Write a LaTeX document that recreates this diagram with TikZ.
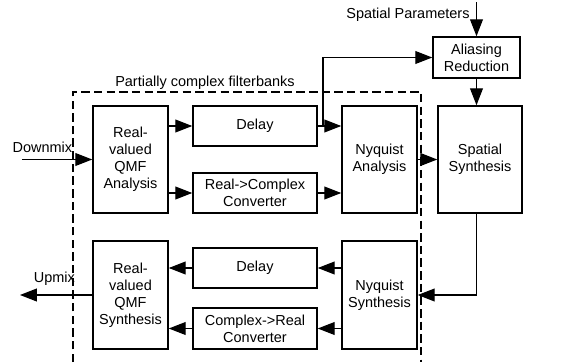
\documentclass[tikz,border=0pt]{standalone}
\usepackage{fontspec}
\setmainfont{Liberation Sans}
\usetikzlibrary{calc, arrows.meta}

\begin{document}
\begin{tikzpicture}[
    block/.style = {draw, line width=1.1pt, align=center, inner sep=0pt, font=\fontsize{10.3}{12}\selectfont},
    tallblock/.style = {block, minimum width=1.875cm, minimum height=2.675cm},
    flatblock/.style = {block, minimum width=3.1cm, minimum height=1cm},
    sig/.style = {line width=0.8pt, -{Triangle[length=4.2mm,width=3.2mm]}},
    lbl/.style = {font=\fontsize{10.3}{12}\selectfont, inner sep=1pt}
]
\def\yAna{5.0625}
\def\ySyn{1.675}
\def\xQmf{3.2625}
\def\xMid{6.375}
\def\xNyq{9.4875}

    \useasboundingbox (0,0) rectangle (14.075,9.05);

    %Filterbank frame
    \draw[line width=0.8pt, dash pattern=on 6pt off 3pt] (1.825,0) -- (1.825,6.75) -- (10.525,6.75) -- (10.525,0);
    \node[lbl] (fb) at (5.125,6.98) {Partially complex filterbanks};

    %Analysis side
    \node[tallblock] (qmfa) at (\xQmf,\yAna) {Real-\\valued\\QMF\\Analysis};
    \node[flatblock] (dlya) at (\xMid,5.9) {Delay};
    \node[flatblock] (rtoc) at (\xMid,4.225) {Real->Complex\\Converter};
    \node[tallblock] (nqa) at (\xNyq,\yAna) {Nyquist\\Analysis};
    \node[tallblock, minimum width=2.1cm] (spat) at (12.0,\yAna) {Spatial\\Synthesis};
    \node[block, minimum width=2.175cm, minimum height=1.025cm] (alias) at (11.9125,7.6125) {Aliasing\\Reduction};

    %Synthesis side
    \node[tallblock, minimum height=2.7cm] (qmfs) at (\xQmf,\ySyn) {Real-\\valued\\QMF\\Synthesis};
    \node[flatblock] (dlys) at (\xMid,2.35) {Delay};
    \node[flatblock, minimum height=1.025cm] (ctor) at (\xMid,0.8375) {Complex->Real\\Converter};
    \node[tallblock, minimum height=2.7cm] (nqs) at (\xNyq,\ySyn) {Nyquist\\Synthesis};

    %Labels
    \node[lbl] (dmx) at (1.06,5.375) {Downmix};
    \node[lbl] (umx) at (1.36,2.075) {Upmix};
    \node[lbl] (spar) at (10.2,8.68) {Spatial Parameters};
    \coordinate (din) at (0.55,\yAna);
    \coordinate (uout) at (0.5,\ySyn);
    \coordinate (pin) at (11.9125,9.0);
    \coordinate (br) at (8.075,5.9);

    %Connections
    \draw[sig] (din) -- (qmfa);
    \draw[sig] (qmfa.east |- dlya) -- (dlya);
    \draw[sig] (qmfa.east |- rtoc) -- (rtoc);
    \draw[sig] (dlya) -- (nqa.west |- dlya);
    \draw[sig] (br) |- (alias);
    \draw[sig] (rtoc) -- (nqa.west |- rtoc);
    \draw[sig] (nqa) -- (spat);
    \draw[sig] (pin) -- (alias);
    \draw[sig] (alias) -- (alias.south |- spat.north);
    \draw[sig] (alias.south |- spat.south) |- (nqs);
    \draw[sig] (nqs.west |- dlys) -- (dlys);
    \draw[sig] (nqs.west |- ctor) -- (ctor);
    \draw[sig] (dlys) -- (qmfs.east |- dlys);
    \draw[sig] (ctor) -- (qmfs.east |- ctor);
    \draw[sig] (qmfs) -- (uout);
\end{tikzpicture}
\end{document}
